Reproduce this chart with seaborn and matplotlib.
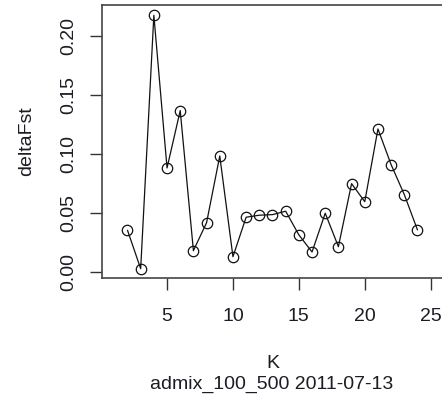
import numpy as np
import pandas as pd
import matplotlib
matplotlib.use("Agg")
import matplotlib.pyplot as plt
import seaborn as sns

# delta Fst by number of clusters K
k = [2, 3, 4, 5, 6, 7, 8, 9, 10, 11, 12, 13, 14, 15, 16, 17, 18, 19, 20, 21, 22, 23, 24]
delta_fst = [0.0351, 0.0025, 0.2176, 0.0880, 0.1367, 0.0178, 0.0416, 0.0982, 0.0127,
             0.0462, 0.0479, 0.0484, 0.0513, 0.0312, 0.0167, 0.0496, 0.0212, 0.0747,
             0.0594, 0.1211, 0.0908, 0.0654, 0.0354]
x_ticks = [5, 10, 15, 20, 25]
y_ticks = [0.00, 0.05, 0.10, 0.15, 0.20]

df = pd.DataFrame({"K": k, "deltaFst": delta_fst})

sns.set_style("white")
plt.rcParams["font.family"] = ["Liberation Sans", "DejaVu Sans"]
txt = "#1c1c24"
fs = 14

fig = plt.figure(figsize=(4.42, 3.97), dpi=100)
ax = fig.add_axes([0.230, 0.2997, 0.773, 0.6877])

sns.lineplot(data=df, x="K", y="deltaFst", ax=ax, color="#111111", lw=0.9,
             marker="o", markersize=7.5, markerfacecolor="none",
             markeredgecolor="#111111", markeredgewidth=0.9)

ax.set_xlim(0.04, 25.96)
ax.set_ylim(-0.0054, 0.2263)
ax.set_xticks(x_ticks)
ax.set_yticks(y_ticks)
ax.set_xticklabels([str(v) for v in x_ticks], fontsize=fs, color=txt)
ax.set_yticklabels(["%.2f" % v for v in y_ticks], fontsize=fs, color=txt,
                   rotation=90, va="center")
ax.tick_params(axis="both", direction="out", length=8.5, width=1, color="#333333",
               bottom=True, left=True)
ax.tick_params(axis="x", pad=13)
ax.tick_params(axis="y", pad=9)
for s in ax.spines.values():
    s.set_color("#444444")
    s.set_linewidth(1.2)

ax.set_xlabel("K", fontsize=fs, color=txt, labelpad=22)
ax.set_ylabel("deltaFst", fontsize=fs, color=txt, labelpad=18)
fig.text(ax.get_position().x0 + ax.get_position().width / 2 - 0.003, 0.031,
         "admix_100_500 2011-07-13", fontsize=fs, color=txt,
         ha="center", va="center")

fig.savefig("out.png", dpi=100)
